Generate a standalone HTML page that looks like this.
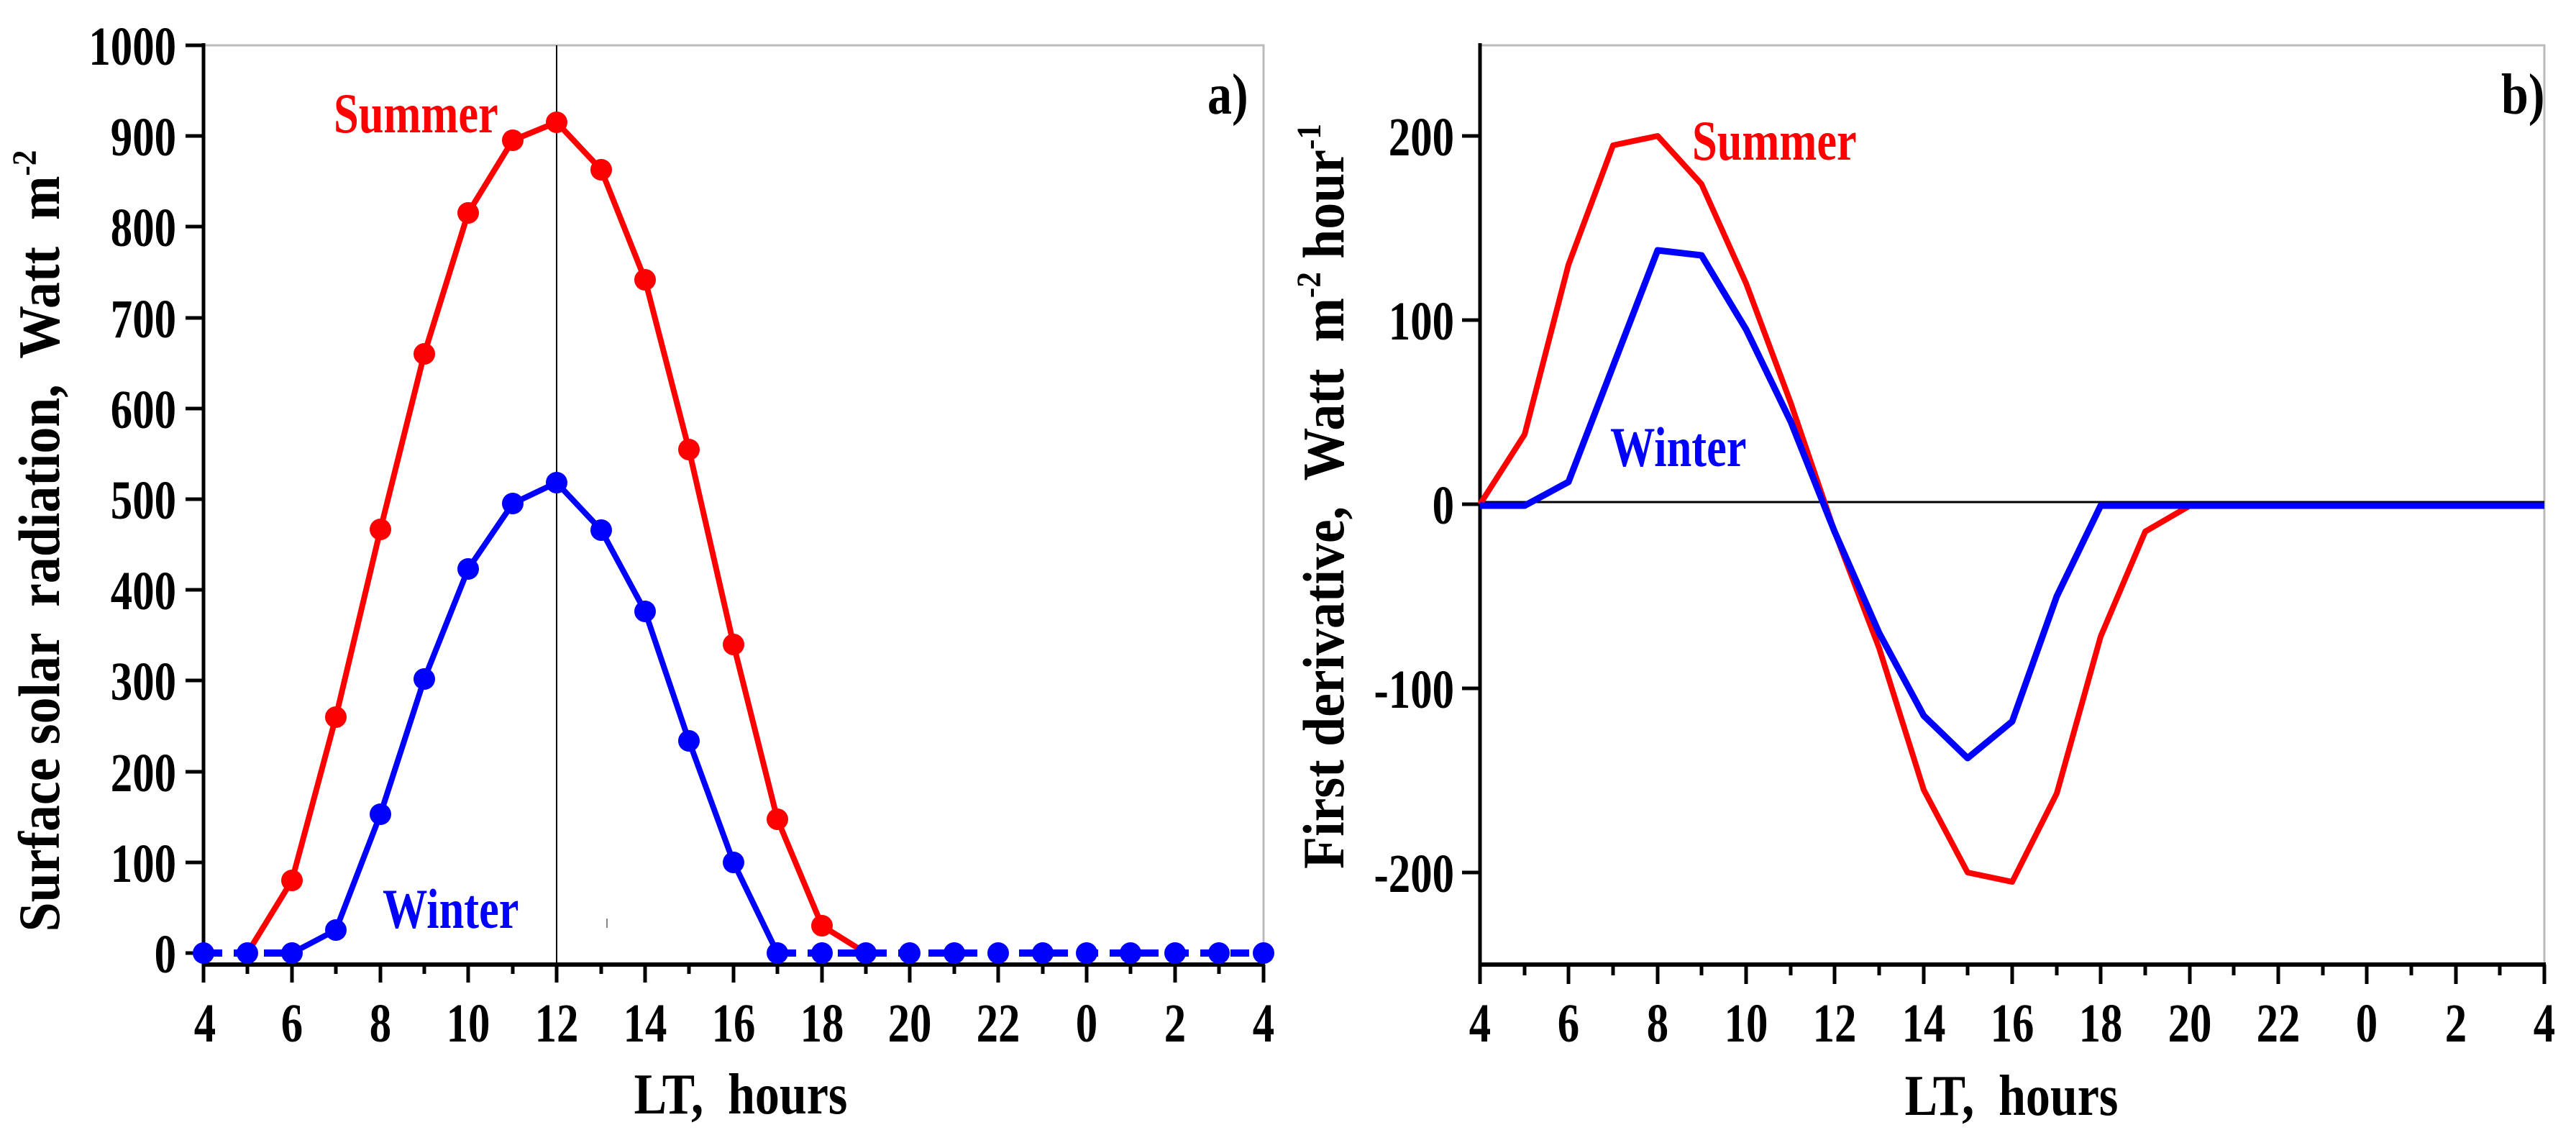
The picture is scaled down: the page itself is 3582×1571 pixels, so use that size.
<!DOCTYPE html>
<html><head><meta charset="utf-8"><style>html,body{margin:0;padding:0;background:#fff}svg{display:block}text{white-space:pre}</style></head>
<body>
<svg width="3582" height="1571" viewBox="0 0 3582 1571" xmlns="http://www.w3.org/2000/svg" xml:space="preserve" font-family="Liberation Serif, serif" font-weight="bold">
<rect width="3582" height="1571" fill="#fff"/>
<!-- Panel a -->
<rect x="283" y="63" width="1474" height="1278" fill="none" stroke="#bbb" stroke-width="3"/>
<line x1="283" y1="60" x2="283" y2="1343" stroke="#000" stroke-width="5"/>
<line x1="281" y1="1341" x2="1759" y2="1341" stroke="#000" stroke-width="6"/>
<g stroke="#000" stroke-width="5">
<line x1="258" y1="1325" x2="283" y2="1325"/><line x1="258" y1="1199" x2="283" y2="1199"/><line x1="258" y1="1073" x2="283" y2="1073"/><line x1="258" y1="946" x2="283" y2="946"/><line x1="258" y1="820" x2="283" y2="820"/><line x1="258" y1="694" x2="283" y2="694"/><line x1="258" y1="568" x2="283" y2="568"/><line x1="258" y1="442" x2="283" y2="442"/><line x1="258" y1="315" x2="283" y2="315"/><line x1="258" y1="189" x2="283" y2="189"/><line x1="258" y1="63" x2="283" y2="63"/>
<line x1="283" y1="1341" x2="283" y2="1366"/><line x1="344" y1="1341" x2="344" y2="1354"/><line x1="406" y1="1341" x2="406" y2="1366"/><line x1="467" y1="1341" x2="467" y2="1354"/><line x1="529" y1="1341" x2="529" y2="1366"/><line x1="590" y1="1341" x2="590" y2="1354"/><line x1="651" y1="1341" x2="651" y2="1366"/><line x1="713" y1="1341" x2="713" y2="1354"/><line x1="774" y1="1341" x2="774" y2="1366"/><line x1="836" y1="1341" x2="836" y2="1354"/><line x1="897" y1="1341" x2="897" y2="1366"/><line x1="958" y1="1341" x2="958" y2="1354"/><line x1="1020" y1="1341" x2="1020" y2="1366"/><line x1="1081" y1="1341" x2="1081" y2="1354"/><line x1="1143" y1="1341" x2="1143" y2="1366"/><line x1="1204" y1="1341" x2="1204" y2="1354"/><line x1="1265" y1="1341" x2="1265" y2="1366"/><line x1="1327" y1="1341" x2="1327" y2="1354"/><line x1="1388" y1="1341" x2="1388" y2="1366"/><line x1="1450" y1="1341" x2="1450" y2="1354"/><line x1="1511" y1="1341" x2="1511" y2="1366"/><line x1="1572" y1="1341" x2="1572" y2="1354"/><line x1="1634" y1="1341" x2="1634" y2="1366"/><line x1="1695" y1="1341" x2="1695" y2="1354"/><line x1="1757" y1="1341" x2="1757" y2="1366"/>
</g>
<line x1="774" y1="63" x2="774" y2="1341" stroke="#000" stroke-width="2"/>
<g font-size="76" text-anchor="end">
<text transform="translate(245,1352) scale(0.8,1)">0</text>
<text transform="translate(245,1226) scale(0.8,1)">100</text>
<text transform="translate(245,1100) scale(0.8,1)">200</text>
<text transform="translate(245,973) scale(0.8,1)">300</text>
<text transform="translate(245,847) scale(0.8,1)">400</text>
<text transform="translate(245,721) scale(0.8,1)">500</text>
<text transform="translate(245,595) scale(0.8,1)">600</text>
<text transform="translate(245,469) scale(0.8,1)">700</text>
<text transform="translate(245,342) scale(0.8,1)">800</text>
<text transform="translate(245,216) scale(0.8,1)">900</text>
<text transform="translate(245,90) scale(0.8,1)">1000</text>
</g>
<g font-size="76" text-anchor="middle">
<text transform="translate(285,1448) scale(0.8,1)">4</text>
<text transform="translate(406,1448) scale(0.8,1)">6</text>
<text transform="translate(529,1448) scale(0.8,1)">8</text>
<text transform="translate(651,1448) scale(0.8,1)">10</text>
<text transform="translate(774,1448) scale(0.8,1)">12</text>
<text transform="translate(897,1448) scale(0.8,1)">14</text>
<text transform="translate(1020,1448) scale(0.8,1)">16</text>
<text transform="translate(1143,1448) scale(0.8,1)">18</text>
<text transform="translate(1265,1448) scale(0.8,1)">20</text>
<text transform="translate(1388,1448) scale(0.8,1)">22</text>
<text transform="translate(1511,1448) scale(0.8,1)">0</text>
<text transform="translate(1634,1448) scale(0.8,1)">2</text>
<text transform="translate(1757,1448) scale(0.8,1)">4</text>
<text transform="translate(1030,1548) scale(0.85,1)" font-size="80">LT,  hours</text>
<text transform="translate(82,752) rotate(-90) scale(0.9,1)" font-size="82">Surface solar  radiation,  Watt  m<tspan font-size="48" dy="-32">-2</tspan></text>
</g>
<text transform="translate(1679,158) scale(0.85,1)" font-size="80">a)</text>
<text transform="translate(464,184) scale(0.8,1)" font-size="78" fill="#f00">Summer</text>
<text transform="translate(532,1290) scale(0.8,1)" font-size="78" fill="#00f">Winter</text>
<line x1="844" y1="1277" x2="844" y2="1290" stroke="#888" stroke-width="2"/>
<polyline fill="none" stroke="#f00" stroke-width="8" stroke-linejoin="round" points="344,1325 406,1224 467,997 529,736 590,492 651,296 713,195 774,170 836,236 897,389 958,625 1020,896 1081,1139 1143,1287 1204,1325"/>
<polyline fill="none" stroke="#00f" stroke-width="8" stroke-linejoin="round" points="406,1325 467,1293 529,1132 590,944 651,791 713,700 774,671 836,737 897,850 958,1030 1020,1199 1081,1325"/>
<line x1="283" y1="1325" x2="406" y2="1325" stroke="#00f" stroke-width="10" stroke-dasharray="26,16"/>
<line x1="1081" y1="1325" x2="1757" y2="1325" stroke="#00f" stroke-width="10" stroke-dasharray="26,16"/>
<g fill="#f00">
<circle cx="406" cy="1224" r="15"/><circle cx="467" cy="997" r="15"/><circle cx="529" cy="736" r="15"/><circle cx="590" cy="492" r="15"/><circle cx="651" cy="296" r="15"/><circle cx="713" cy="195" r="15"/><circle cx="774" cy="170" r="15"/><circle cx="836" cy="236" r="15"/><circle cx="897" cy="389" r="15"/><circle cx="958" cy="625" r="15"/><circle cx="1020" cy="896" r="15"/><circle cx="1081" cy="1139" r="15"/><circle cx="1143" cy="1287" r="15"/>
</g>
<g fill="#00f">
<circle cx="283" cy="1325" r="15"/><circle cx="344" cy="1325" r="15"/><circle cx="406" cy="1325" r="15"/><circle cx="467" cy="1293" r="15"/><circle cx="529" cy="1132" r="15"/><circle cx="590" cy="944" r="15"/><circle cx="651" cy="791" r="15"/><circle cx="713" cy="700" r="15"/><circle cx="774" cy="671" r="15"/><circle cx="836" cy="737" r="15"/><circle cx="897" cy="850" r="15"/><circle cx="958" cy="1030" r="15"/><circle cx="1020" cy="1199" r="15"/><circle cx="1081" cy="1325" r="15"/><circle cx="1143" cy="1325" r="15"/><circle cx="1204" cy="1325" r="15"/><circle cx="1265" cy="1325" r="15"/><circle cx="1327" cy="1325" r="15"/><circle cx="1388" cy="1325" r="15"/><circle cx="1450" cy="1325" r="15"/><circle cx="1511" cy="1325" r="15"/><circle cx="1572" cy="1325" r="15"/><circle cx="1634" cy="1325" r="15"/><circle cx="1695" cy="1325" r="15"/><circle cx="1757" cy="1325" r="15"/>
</g>

<!-- Panel b -->
<rect x="2058" y="63" width="1480" height="1278" fill="none" stroke="#bbb" stroke-width="3"/>
<line x1="2058" y1="60" x2="2058" y2="1343" stroke="#000" stroke-width="5"/>
<line x1="2056" y1="1341" x2="3540" y2="1341" stroke="#000" stroke-width="6"/>
<g stroke="#000" stroke-width="5">
<line x1="2033" y1="189" x2="2058" y2="189"/><line x1="2033" y1="445" x2="2058" y2="445"/><line x1="2033" y1="701" x2="2058" y2="701"/><line x1="2033" y1="957" x2="2058" y2="957"/><line x1="2033" y1="1213" x2="2058" y2="1213"/>
<line x1="2058" y1="1341" x2="2058" y2="1368"/><line x1="2120" y1="1341" x2="2120" y2="1356"/><line x1="2181" y1="1341" x2="2181" y2="1368"/><line x1="2243" y1="1341" x2="2243" y2="1356"/><line x1="2305" y1="1341" x2="2305" y2="1368"/><line x1="2366" y1="1341" x2="2366" y2="1356"/><line x1="2428" y1="1341" x2="2428" y2="1368"/><line x1="2490" y1="1341" x2="2490" y2="1356"/><line x1="2551" y1="1341" x2="2551" y2="1368"/><line x1="2613" y1="1341" x2="2613" y2="1356"/><line x1="2675" y1="1341" x2="2675" y2="1368"/><line x1="2736" y1="1341" x2="2736" y2="1356"/><line x1="2798" y1="1341" x2="2798" y2="1368"/><line x1="2860" y1="1341" x2="2860" y2="1356"/><line x1="2921" y1="1341" x2="2921" y2="1368"/><line x1="2983" y1="1341" x2="2983" y2="1356"/><line x1="3045" y1="1341" x2="3045" y2="1368"/><line x1="3106" y1="1341" x2="3106" y2="1356"/><line x1="3168" y1="1341" x2="3168" y2="1368"/><line x1="3230" y1="1341" x2="3230" y2="1356"/><line x1="3291" y1="1341" x2="3291" y2="1368"/><line x1="3353" y1="1341" x2="3353" y2="1356"/><line x1="3415" y1="1341" x2="3415" y2="1368"/><line x1="3476" y1="1341" x2="3476" y2="1356"/><line x1="3538" y1="1341" x2="3538" y2="1368"/>
</g>
<line x1="2058" y1="698" x2="3538" y2="698" stroke="#000" stroke-width="3"/>
<g font-size="76" text-anchor="end">
<text transform="translate(2022,216) scale(0.8,1)">200</text>
<text transform="translate(2022,472) scale(0.8,1)">100</text>
<text transform="translate(2022,728) scale(0.8,1)">0</text>
<text transform="translate(2022,984) scale(0.8,1)">-100</text>
<text transform="translate(2022,1240) scale(0.8,1)">-200</text>
</g>
<g font-size="76" text-anchor="middle">
<text transform="translate(2058,1448) scale(0.8,1)">4</text>
<text transform="translate(2181,1448) scale(0.8,1)">6</text>
<text transform="translate(2305,1448) scale(0.8,1)">8</text>
<text transform="translate(2428,1448) scale(0.8,1)">10</text>
<text transform="translate(2551,1448) scale(0.8,1)">12</text>
<text transform="translate(2675,1448) scale(0.8,1)">14</text>
<text transform="translate(2798,1448) scale(0.8,1)">16</text>
<text transform="translate(2921,1448) scale(0.8,1)">18</text>
<text transform="translate(3045,1448) scale(0.8,1)">20</text>
<text transform="translate(3168,1448) scale(0.8,1)">22</text>
<text transform="translate(3291,1448) scale(0.8,1)">0</text>
<text transform="translate(3415,1448) scale(0.8,1)">2</text>
<text transform="translate(3538,1448) scale(0.8,1)">4</text>
<text transform="translate(2797,1550) scale(0.85,1)" font-size="80">LT,  hours</text>
<text transform="translate(1868,690) rotate(-90) scale(0.9,1)" font-size="82">First derivative,  Watt  m<tspan font-size="48" dy="-32">-2</tspan><tspan dy="32"> hour</tspan><tspan font-size="48" dy="-32">-1</tspan></text>
</g>
<text transform="translate(3478,158) scale(0.85,1)" font-size="80">b)</text>
<text transform="translate(2353,222) scale(0.8,1)" font-size="78" fill="#f00">Summer</text>
<text transform="translate(2239,648) scale(0.8,1)" font-size="78" fill="#00f">Winter</text>
<polyline fill="none" stroke="#f00" stroke-width="8" stroke-linejoin="round" points="2058,701 2120,604 2181,368 2243,202 2305,189 2366,256 2428,394 2490,560 2551,739 2613,901 2675,1098 2736,1213 2798,1226 2860,1103 2921,885 2983,739 3045,703 3538,703"/>
<polyline fill="none" stroke="#00f" stroke-width="9" stroke-linejoin="round" points="2058,703 2120,703 2181,670 2243,509 2305,348 2366,355 2428,458 2490,586 2551,739 2613,880 2675,995 2736,1054 2798,1003 2860,829 2921,703 3538,703"/>
</svg>
</body></html>
